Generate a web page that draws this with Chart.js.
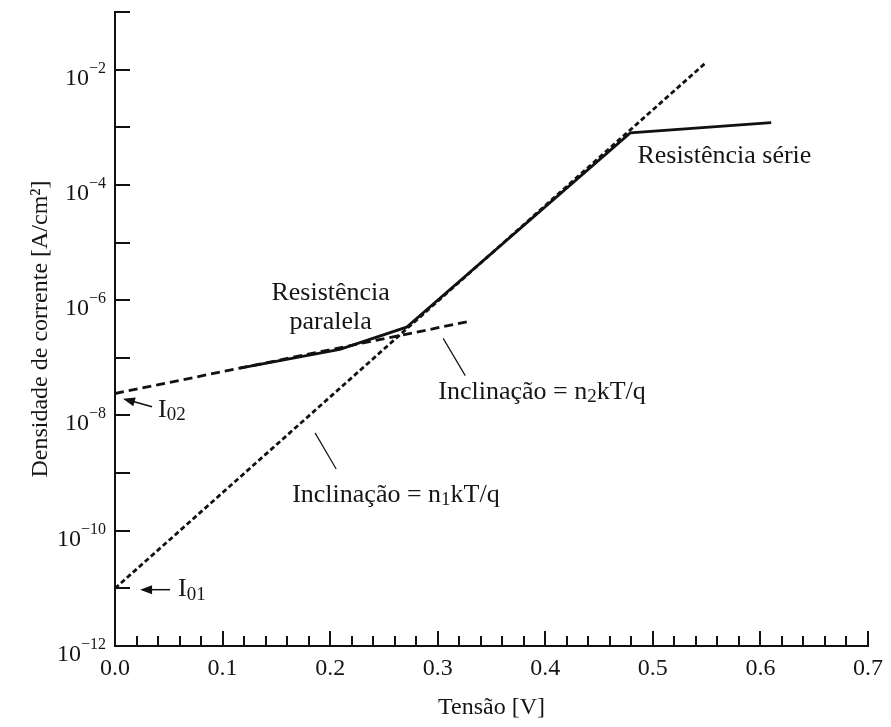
<!DOCTYPE html>
<html>
<head>
<meta charset="utf-8">
<script src="https://cdn.jsdelivr.net/npm/chart.js@4.4.0/dist/chart.umd.min.js"></script>
<style>
  html, body { margin: 0; padding: 0; background: #fff; }
</style>
</head>
<body>
<canvas id="ivChart" width="891" height="727"></canvas>
<script>
// Voltage [V] and current density [A/cm2]
var idealV = [0, 0.548];                 // slope n1kT/q (dotted)
var idealJ = [1e-11, 1.26e-2];
var recombV = [0, 0.327];                // slope n2kT/q (dashed)
var recombJ = [2.4e-8, 4.2e-7];
var realV = [0.116, 0.209, 0.271, 0.479, 0.61];   // real cell (solid)
var realJ = [6.6e-8, 1.4e-7, 3.4e-7, 8e-4, 1.2e-3];

var yExponents = [-12, -11, -10, -9, -8, -7, -6, -5, -4, -3, -2, -1];
var xMin = 0, xMax = 0.7, xStep = 0.02;

var serif = "'Liberation Serif', 'Times New Roman', serif";
var ink = '#151515';

function toPoints(xs, ys) {
  return xs.map(function(x, i) { return {x: x, y: ys[i]}; });
}

// labels, arrows and leader lines, placed in data coordinates (x in V, y as log10 J)
var notes = [
  {x: 0.5665, e: -3.5, align: 'center', parts: [['Resistência série', 0]]},
  {x: 0.2005, e: -5.88, align: 'center', parts: [['Resistência', 0]]},
  {x: 0.2005, e: -6.39, align: 'center', parts: [['paralela', 0]]},
  {x: 0.3005, e: -7.6, align: 'left', parts: [['Inclinação = n', 0], ['2', 1], ['kT/q', 0]]},
  {x: 0.1647, e: -9.38, align: 'left', parts: [['Inclinação = n', 0], ['1', 1], ['kT/q', 0]]},
  {x: 0.040, e: -7.9, align: 'left', parts: [['I', 0], ['02', 1]]},
  {x: 0.0586, e: -11.02, align: 'left', parts: [['I', 0], ['01', 1]]}
];
var leaders = [
  [0.3051, -6.663, 0.3256, -7.308],
  [0.186, -8.302, 0.2056, -8.93]
];
var arrows = [
  [0.0344, -7.849, 0.0074, -7.709],
  [0.0512, -11.023, 0.0233, -11.023]
];

var figurePlugin = {
  id: 'figureExtras',
  afterDraw: function(chart) {
    var ctx = chart.ctx;
    var xs = chart.scales.x, ys = chart.scales.y;
    var area = chart.chartArea;
    var px = function(v) { return xs.getPixelForValue(v); };
    var py = function(e) { return ys.getPixelForValue(Math.pow(10, e)); };

    ctx.save();
    ctx.strokeStyle = '#111';
    ctx.lineWidth = 2;
    // inward tick marks
    xs.ticks.forEach(function(t) {
      var v = t.value;
      var major = Math.abs(v * 10 - Math.round(v * 10)) < 1e-6;
      var x = Math.round(px(v));
      ctx.beginPath();
      ctx.moveTo(x, area.bottom);
      ctx.lineTo(x, area.bottom - (major ? 15 : 10));
      ctx.stroke();
    });
    ctx.fillStyle = ink;
    ctx.textBaseline = 'alphabetic';
    ys.ticks.forEach(function(t) {
      var y = Math.round(ys.getPixelForValue(t.value));
      ctx.beginPath();
      ctx.moveTo(area.left, y);
      ctx.lineTo(area.left + 15, y);
      ctx.stroke();
      // decade labels 10^e with a raised exponent
      var e = Math.round(Math.log10(t.value));
      if (e % 2 !== 0) return;
      var expo = '\u2212' + Math.abs(e);
      ctx.font = '16px ' + serif;
      var we = ctx.measureText(expo).width;
      ctx.font = '24px ' + serif;
      var wb = ctx.measureText('10').width;
      var right = area.left - 9;
      ctx.fillText('10', right - we - wb, y + 15);
      ctx.font = '16px ' + serif;
      ctx.fillText(expo, right - we, y + 3);
    });

    // leader lines
    ctx.lineWidth = 1.2;
    leaders.forEach(function(l) {
      ctx.beginPath();
      ctx.moveTo(px(l[0]), py(l[1]));
      ctx.lineTo(px(l[2]), py(l[3]));
      ctx.stroke();
    });

    // arrows
    ctx.lineWidth = 1.5;
    ctx.fillStyle = '#111';
    arrows.forEach(function(a) {
      var x0 = px(a[0]), y0 = py(a[1]), x1 = px(a[2]), y1 = py(a[3]);
      var ang = Math.atan2(y1 - y0, x1 - x0);
      ctx.beginPath();
      ctx.moveTo(x0, y0);
      ctx.lineTo(x1 - 8 * Math.cos(ang), y1 - 8 * Math.sin(ang));
      ctx.stroke();
      ctx.beginPath();
      ctx.moveTo(x1, y1);
      ctx.lineTo(x1 - 12 * Math.cos(ang) + 4.5 * Math.sin(ang), y1 - 12 * Math.sin(ang) - 4.5 * Math.cos(ang));
      ctx.lineTo(x1 - 12 * Math.cos(ang) - 4.5 * Math.sin(ang), y1 - 12 * Math.sin(ang) + 4.5 * Math.cos(ang));
      ctx.closePath();
      ctx.fill();
    });

    // text notes with subscripts
    ctx.fillStyle = ink;
    ctx.textBaseline = 'middle';
    ctx.textAlign = 'left';
    notes.forEach(function(n) {
      var total = 0;
      n.parts.forEach(function(p) {
        ctx.font = (p[1] ? 19 : 26) + 'px ' + serif;
        total += ctx.measureText(p[0]).width;
      });
      var x = px(n.x), y = py(n.e);
      if (n.align === 'center') x -= total / 2;
      n.parts.forEach(function(p) {
        ctx.font = (p[1] ? 19 : 26) + 'px ' + serif;
        ctx.fillText(p[0], x, p[1] ? y + 5 : y);
        x += ctx.measureText(p[0]).width;
      });
    });
    ctx.restore();
  }
};

var lineStyle = {borderColor: '#111', borderWidth: 2.8, pointRadius: 0, tension: 0, fill: false};

new Chart(document.getElementById('ivChart').getContext('2d'), {
  type: 'line',
  data: {
    datasets: [
      Object.assign({label: 'n1', data: toPoints(idealV, idealJ), borderDash: [5, 3]}, lineStyle),
      Object.assign({label: 'n2', data: toPoints(recombV, recombJ), borderDash: [9, 5]}, lineStyle),
      Object.assign({label: 'real', data: toPoints(realV, realJ)}, lineStyle)
    ]
  },
  options: {
    responsive: false,
    animation: false,
    devicePixelRatio: 1,
    layout: {autoPadding: false, padding: {left: 0, top: 12, right: 17, bottom: 0}},
    plugins: {legend: {display: false}, tooltip: {enabled: false}},
    scales: {
      x: {
        type: 'linear', min: xMin, max: xMax,
        grid: {display: false, drawTicks: false},
        border: {display: true, color: '#111', width: 2},
        afterFit: function(s) { s.height = 81; },
        ticks: {
          stepSize: xStep, autoSkip: false, maxRotation: 0, padding: 8,
          color: ink, font: {family: serif, size: 24},
          callback: function(v) {
            return Math.abs(v * 10 - Math.round(v * 10)) < 1e-6 ? v.toFixed(1) : '';
          }
        },
        title: {display: true, text: 'Tensão [V]', color: ink,
          font: {family: serif, size: 24}, padding: {top: 0, bottom: 5}}
      },
      y: {
        type: 'logarithmic', min: 1e-12, max: 1e-1,
        grid: {display: false, drawTicks: false},
        border: {display: true, color: '#111', width: 2},
        afterFit: function(s) { s.width = 115; },
        afterBuildTicks: function(s) {
          s.ticks = yExponents.map(function(e) { return {value: Math.pow(10, e)}; });
        },
        ticks: {display: false, autoSkip: false},
        title: {display: true, text: 'Densidade de corrente [A/cm²]', color: ink,
          font: {family: serif, size: 24}, padding: {top: 26, bottom: 0}}
      }
    }
  },
  plugins: [figurePlugin]
});
</script>
</body>
</html>
